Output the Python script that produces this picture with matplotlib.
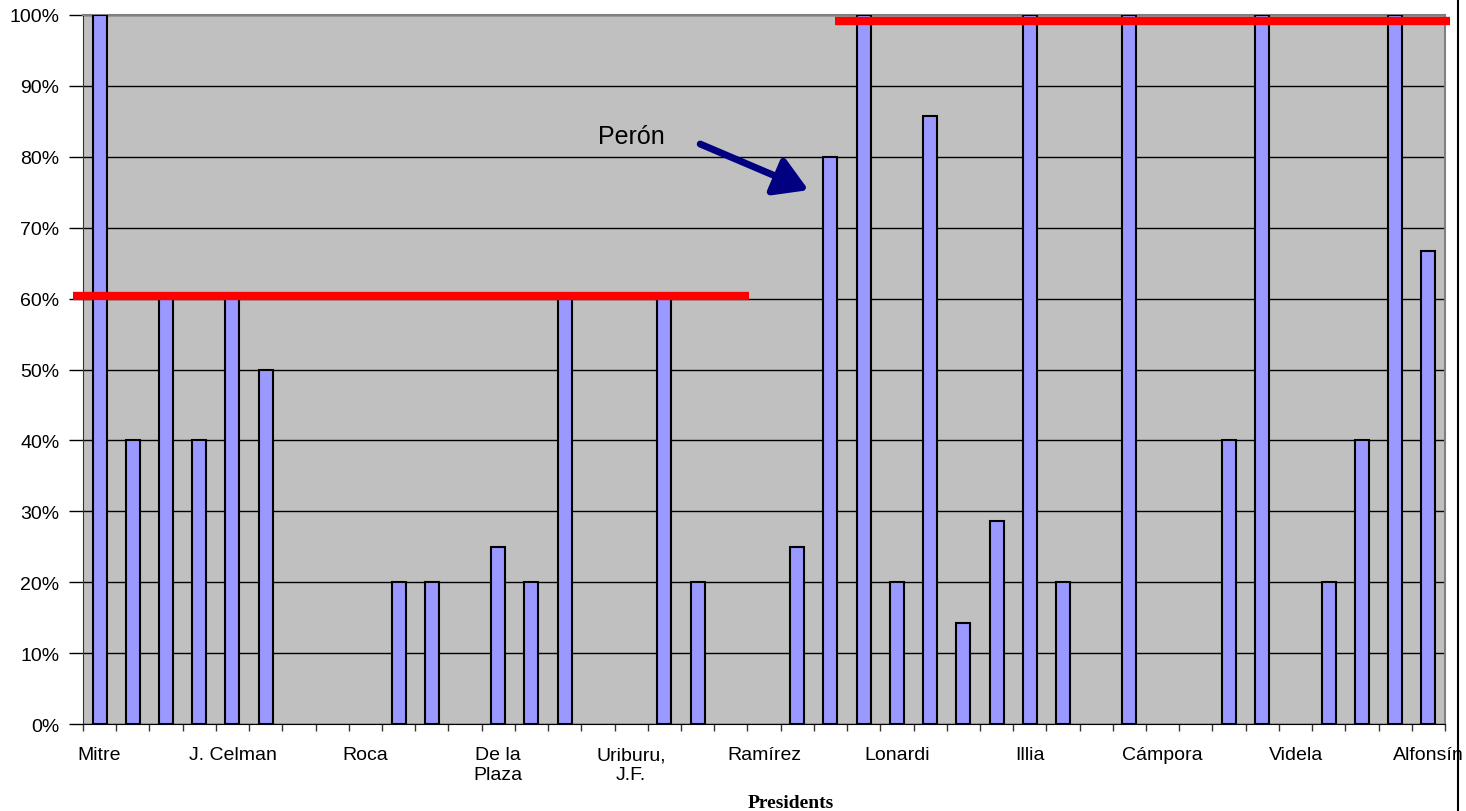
import matplotlib.pyplot as plt
from matplotlib.lines import Line2D
from matplotlib.ticker import PercentFormatter

plt.rcParams['font.family'] = ['Liberation Sans', 'DejaVu Sans']

# one slot per government; only every fourth one gets a name on the axis
presidents = ['Mitre', '', '', '', 'J. Celman', '', '', '', 'Roca', '', '',
              '', 'De la\nPlaza', '', '', '', 'Uriburu,\nJ.F.', '', '', '',
              'Ramírez', '', '', '', 'Lonardi', '', '', '', 'Illia', '', '',
              '', 'Cámpora', '', '', '', 'Videla', '', '', '', 'Alfonsín']
share = [1.0, 0.4, 0.6, 0.4, 0.6, 0.5, 0, 0, 0, 0.2, 0.2,
         0, 0.25, 0.2, 0.6, 0, 0, 0.6, 0.2, 0, 0,
         0.25, 0.8, 1.0, 0.2, 6 / 7, 1 / 7, 2 / 7, 1.0, 0.2, 0,
         1.0, 0, 0, 0.4, 1.0, 0, 0.2, 0.4, 1.0, 2 / 3]

# reference levels drawn across the two periods
early_level = 0.604
early_span = (-0.8, 19.56)
late_level = 0.9915
late_span = (22.15, 40.64)

fig = plt.figure(figsize=(14.66, 8.12), dpi=100)
ax = fig.add_axes([0.0566, 0.1071, 0.9291, 0.8732])
ax.set_facecolor('#C0C0C0')

x = list(range(len(presidents)))
# empty slots get no outline at all
edges = ['black' if v > 0 else 'none' for v in share]
ax.bar(x, share, width=0.42, color='#9999FF', edgecolor=edges,
       linewidth=1.5, zorder=3)

ax.set_xlim(-0.5, len(presidents) - 0.5)
ax.set_ylim(0, 1)
ax.set_yticks([i / 10 for i in range(11)])
ax.yaxis.set_major_formatter(PercentFormatter(1.0, decimals=0))
ax.yaxis.grid(True, color='black', linewidth=1)
ax.set_axisbelow(True)

# tick marks sit on the category boundaries, names under every fourth slot
ax.set_xticks([i - 0.5 for i in range(len(presidents) + 1)])
ax.set_xticklabels([])
ax.set_xticks(x, presidents, minor=True)
ax.tick_params(axis='x', which='minor', length=0, pad=16, labelsize=14)
ax.tick_params(axis='x', which='major', length=5, width=1, direction='out',
               colors='#333333')
ax.tick_params(axis='y', length=10, width=1, labelsize=14, pad=7)

for side in ['top', 'right']:
    ax.spines[side].set_color('#808080')
    ax.spines[side].set_linewidth(1.5)
ax.spines['left'].set_color('#333333')
ax.spines['bottom'].set_color('black')

ax.plot(early_span, [early_level, early_level], color='red', linewidth=6,
        solid_capstyle='butt', clip_on=False, zorder=5)
ax.plot(late_span, [late_level, late_level], color='red', linewidth=6,
        solid_capstyle='butt', clip_on=False, zorder=5)

ax.annotate('', xy=(21.34, 0.753), xytext=(18.08, 0.818),
            arrowprops=dict(arrowstyle='-|>,head_length=2.0,head_width=1.2',
                            color='#000080', linewidth=5,
                            shrinkA=0, shrinkB=0), zorder=6)
ax.text(16.0, 0.829, 'Perón', ha='center', va='center', fontsize=18)

ax.set_xlabel('Presidents', fontfamily='Liberation Serif', fontweight='bold',
              fontsize=14)
ax.xaxis.set_label_coords(0.52, -0.098)

fig.add_artist(Line2D([0.9945, 0.9945], [0, 1], color='black', linewidth=1.5))

fig.savefig('out.png')
